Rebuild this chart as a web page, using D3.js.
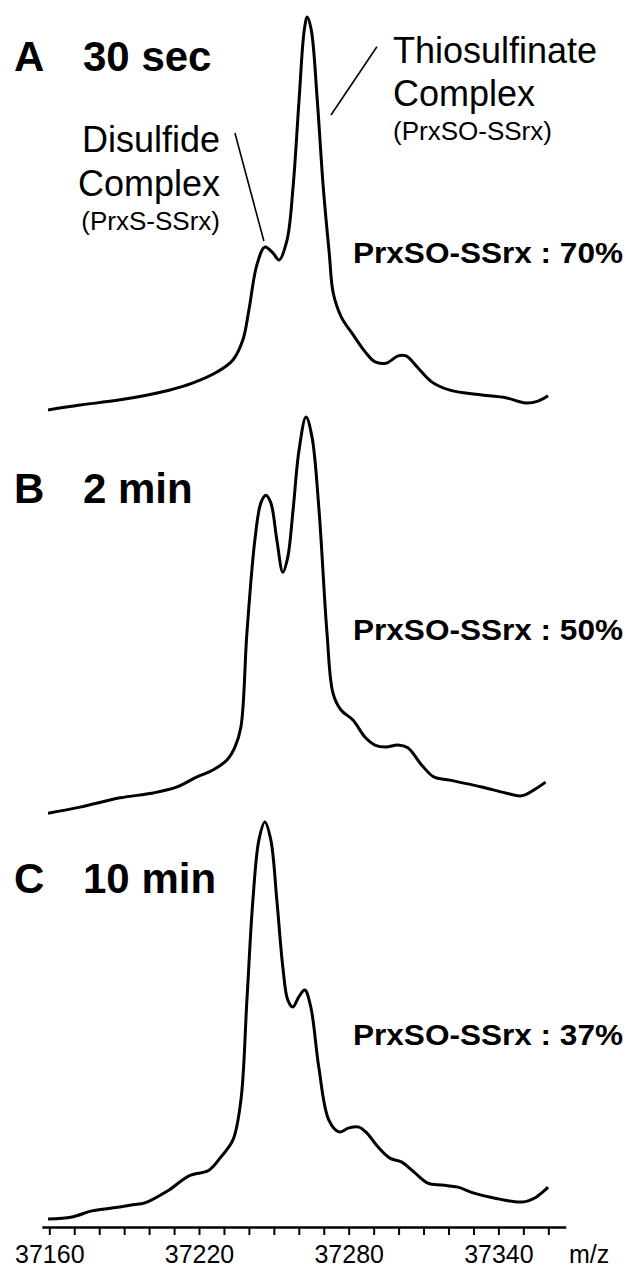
<!DOCTYPE html>
<html>
<head>
<meta charset="utf-8">
<script src="https://cdn.jsdelivr.net/npm/d3@7"></script>
<style>
  body { margin: 0; background: #fff; }
  svg { font-family: "Liberation Sans", Arial, sans-serif; display: block; }
  path.spec { fill: none; stroke: #000; stroke-width: 3px; stroke-linejoin: round; }
  .x.axis path, .x.axis line { stroke: #000; }
  .x.axis path { stroke-width: 2.5px; }
  .x.axis line { stroke-width: 2px; }
</style>
</head>
<body>
<svg id="chart"></svg>
<script>
// m/z and relative intensity (% of main peak)
var mzA = [37159.5, 37172.3, 37188.4, 37208, 37217.6, 37227.2, 37233.6, 37237.6, 37240, 37243.2,
  37246.4, 37249.7, 37252.1, 37255.3, 37257.7, 37260.1, 37262.2, 37263.4, 37265, 37267.4,
  37269.8, 37272.2, 37273.8, 37277, 37281.8, 37286.6, 37290.6, 37295, 37299.8, 37303,
  37307.8, 37313.4, 37320.6, 37333.4, 37343, 37351.1, 37355.9, 37359.9];
var intA = [2.5, 3.7, 5.0, 7.4, 9.2, 11.9, 14.9, 19.9, 27.3, 38.5,
  42.9, 41.4, 39.7, 44.7, 57.8, 79.4, 96.8, 100, 96.8, 79.4,
  57.8, 41.4, 31.5, 25.6, 21.1, 16.9, 14.4, 14.1, 15.9, 15.9,
  12.9, 9.4, 7.4, 6.2, 5.5, 4.2, 4.7, 6.0];

var mzB = [37159.5, 37172.3, 37188.4, 37201.6, 37211.2, 37219.2, 37225.6, 37231.2, 37234.4, 37236.8,
  37239.2, 37242.4, 37244.8, 37246.8, 37248.8, 37251.2, 37253.6, 37255.6, 37257.7, 37260.1,
  37262.9, 37265.3, 37268.1, 37271.3, 37273.7, 37276.9, 37281.7, 37286.5, 37290.5, 37294.9,
  37299.7, 37303.7, 37309.3, 37314.1, 37320.5, 37333.3, 37342.9, 37349.3, 37354.1, 37358.9];
var intB = [1.7, 3.2, 5.5, 6.7, 8.2, 10.7, 12.4, 14.9, 18.1, 23.1,
  46.4, 69.5, 78.7, 80.6, 78.7, 69.5, 61.5, 65.3, 76.9, 91.8,
  100, 95, 76.9, 46.4, 31.5, 27.3, 24.8, 20.6, 18.6, 18.1,
  18.6, 17.9, 13.6, 10.7, 9.9, 8.2, 6.7, 6.0, 7.4, 9.4];

var mzC = [37159.5, 37169.1, 37177.1, 37185.1, 37193.5, 37198.3, 37208, 37216, 37224, 37228.8,
  37233.6, 37236.8, 37239.2, 37241.6, 37244, 37246.4, 37248.8, 37251.2, 37253.6, 37255.6,
  37257.6, 37260, 37262.4, 37264.8, 37268, 37272, 37276.1, 37280.1, 37284.1, 37287.3,
  37291.7, 37296.5, 37301.3, 37306.1, 37311.7, 37317.4, 37323.8, 37330.2, 37338.2, 37349.5,
  37355.1, 37359.9];
var intC = [1.5, 2.0, 3.5, 4.2, 5.0, 5.5, 8.7, 12.2, 13.6, 16.9,
  21.1, 31, 55.8, 80.6, 95.5, 100, 95.5, 80.6, 64, 55.8,
  54.1, 56.6, 58.3, 54.1, 39.2, 26.1, 23.1, 24.1, 24.3, 22.8,
  19.4, 16.6, 15.6, 13.2, 10.4, 9.9, 9.4, 7.9, 6.7, 5.7,
  6.9, 9.4];

var panelLetters = ["A", "B", "C"];
var panelTimes = ["30 sec", "2 min", "10 min"];
var percentLabels = ["PrxSO-SSrx : 70%", "PrxSO-SSrx : 50%", "PrxSO-SSrx : 37%"];
var tickValues = d3.range(37160, 37361, 10);
var labelledTicks = [37160, 37220, 37280, 37340];

var width = 626, height = 1268;
var panelTop = [0, 400, 805];
var titleBase = [71, 503, 893];
var percentBase = [263, 640, 1045];

var svg = d3.select("#chart").attr("width", width).attr("height", height);
svg.append("rect").attr("width", width).attr("height", height).attr("fill", "#fff");

var x = d3.scaleLinear().domain([37160, 37360]).range([49.3, 548.3]);

var line = function (yScale) {
  return d3.line()
    .x(function (d) { return x(d[0]); })
    .y(function (d) { return yScale(d[1]); })
    .curve(d3.curveCatmullRom.alpha(0.5));
};

var traces = [d3.zip(mzA, intA), d3.zip(mzB, intB), d3.zip(mzC, intC)];
var yScales = [];

traces.forEach(function (data, i) {
  var y = d3.scaleLinear().domain([0, 100]).range([panelTop[i] + 420, panelTop[i] + 17]);
  yScales.push(y);

  svg.append("path").datum(data).attr("class", "spec").attr("d", line(y));

  svg.append("text").attr("x", 14).attr("y", titleBase[i])
    .style("font-size", "42px").style("font-weight", "bold").text(panelLetters[i]);
  svg.append("text").attr("x", 83).attr("y", titleBase[i])
    .style("font-size", "42px").style("font-weight", "bold").text(panelTimes[i]);

  svg.append("text").attr("x", 353).attr("y", percentBase[i])
    .style("font-size", "29px").style("font-weight", "bold")
    .attr("textLength", 270).attr("lengthAdjust", "spacingAndGlyphs")
    .text(percentLabels[i]);
});

// peak annotations on trace A (leader ends given in data units)
var yA = yScales[0];
svg.append("line")
  .attr("x1", x(37234.4)).attr("y1", yA(71.2))
  .attr("x2", x(37246.0)).attr("y2", yA(44.4))
  .attr("stroke", "#000").attr("stroke-width", 1.6);
svg.append("line")
  .attr("x1", x(37272.9)).attr("y1", yA(75.7))
  .attr("x2", x(37291.3)).attr("y2", yA(92.6))
  .attr("stroke", "#000").attr("stroke-width", 1.6);

var disul = svg.append("text").attr("text-anchor", "end");
disul.append("tspan").attr("x", 220).attr("y", 152).style("font-size", "36px").text("Disulfide");
disul.append("tspan").attr("x", 220).attr("y", 196).style("font-size", "36px").text("Complex");
disul.append("tspan").attr("x", 220).attr("y", 230).style("font-size", "26px").text("(PrxS-SSrx)");

var thio = svg.append("text");
thio.append("tspan").attr("x", 393).attr("y", 63).style("font-size", "36px").text("Thiosulfinate");
thio.append("tspan").attr("x", 393).attr("y", 106).style("font-size", "36px").text("Complex");
thio.append("tspan").attr("x", 393).attr("y", 140).style("font-size", "26px").text("(PrxSO-SSrx)");

// m/z axis
var xAxisScale = x.copy().domain([37157, 37367]).range([x(37157), x(37367)]);
var xAxis = d3.axisBottom(xAxisScale)
  .tickValues(tickValues)
  .tickSizeInner(8)
  .tickSizeOuter(0)
  .tickFormat(function (d) { return labelledTicks.indexOf(d) >= 0 ? d : ""; });

var gx = svg.append("g").attr("class", "x axis")
  .attr("transform", "translate(0,1227)")
  .call(xAxis);
gx.selectAll("text")
  .attr("y", 36).attr("dy", 0)
  .style("font-size", "25px")
  .style("font-family", "'Liberation Sans', Arial, sans-serif")
  .attr("fill", "#000");

svg.append("text").attr("x", 569).attr("y", 1263)
  .style("font-size", "25px").text("m/z");
</script>
</body>
</html>
